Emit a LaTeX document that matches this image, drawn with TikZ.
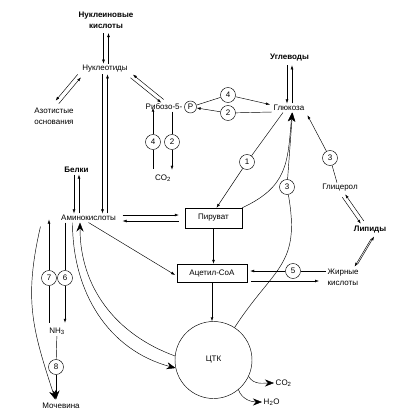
\documentclass[tikz,border=0pt]{standalone}
\usepackage{fontspec}
\setmainfont{Liberation Sans}
\usetikzlibrary{arrows.meta, positioning}

\begin{document}
\begin{tikzpicture}[x=1pt, y=-1pt, line width=0.45pt,
    font=\fontsize{8}{11}\selectfont,
    txt/.style={inner sep=1.5pt, align=center},
    bold/.style={txt, font=\fontsize{8}{11}\selectfont\bfseries},
    num/.style={draw, circle, minimum size=15pt, inner sep=0pt},
    box/.style={draw, minimum height=18pt, inner sep=2pt},
    arr/.style={-{Latex[length=4pt,width=2.8pt]}},
    bigarr/.style={-{Stealth[length=9pt,width=7pt]}}]
    \useasboundingbox (0,0) rectangle (415,416);

    % substances
    \node[bold] (nk) at (106,20) {Нуклеиновые\\кислоты};
    \node[txt] (nt) at (105,69) {Нуклеотиды};
    \node[txt] (azo) at (54,116) {Азотистые\\основания};
    \node[txt, anchor=east] (rib) at (184,107) {Рибозо-5-};
    \node[num, minimum size=12pt] (ribp) at (190.5,107) {P};
    \node[bold] (ug) at (289.5,58) {Углеводы};
    \node[txt] (gl) at (289,108) {Глюкоза};
    \node[txt] (co2a) at (163,178) {CO\textsubscript{2}};
    \node[bold] (bel) at (76.5,170) {Белки};
    \node[txt] (ak) at (88.5,218) {Аминокислоты};
    \node[box, minimum width=57pt, minimum height=20pt] (pyr) at (213.5,218) {Пируват};
    \node[box, minimum width=70pt] (acc) at (212,273) {Ацетил-CoA};
    \node[draw, circle, minimum size=77pt] (tca) at (213.5,360) {ЦТК};
    \node[txt, anchor=west] (co2b) at (274,383) {CO\textsubscript{2}};
    \node[txt, anchor=west] (h2o) at (262,402) {H\textsubscript{2}O};
    \node[txt] (glc) at (340,188) {Глицерол};
    \node[bold] (lip) at (370,230) {Липиды};
    \node[txt, align=left, anchor=west] (fa) at (326,277) {Жирные\\кислоты};
    \node[txt] (nh3) at (57,331) {NH\textsubscript{3}};
    \node[txt] (moch) at (61,406) {Мочевина};

    % reaction numbers
    \node[num] (c4a) at (228,95) {4};
    \node[num] (c2a) at (228,113) {2};
    \node[num] (c4b) at (153,142) {4};
    \node[num] (c2b) at (172,142) {2};
    \node[num] (c1) at (247,162) {1};
    \node[num] (c3a) at (287,187) {3};
    \node[num] (c3b) at (330,158) {3};
    \node[num] (c5) at (293,271) {5};
    \node[num] (c7) at (49,278) {7};
    \node[num] (c6) at (65,278) {6};
    \node[num] (c8) at (56,367) {8};

    % two-way pairs
    \draw[arr, shorten <=3pt, transform canvas={xshift=-2.5pt}] (nk.south) -- (nk.south |- nt.north);
    \draw[arr, shorten >=3pt, transform canvas={xshift=2.5pt}] (nk.south |- nt.north) -- (nk.south);
    \draw[arr, shorten <=2pt, shorten >=5pt, transform canvas={xshift=-1.6pt,yshift=1.5pt}] (nt.south west) -- (azo.north);
    \draw[arr, shorten >=2pt, shorten <=5pt, transform canvas={xshift=1.6pt,yshift=-1.5pt}] (azo.north) -- (nt.south west);
    \draw[arr, shorten <=3pt, shorten >=2pt, transform canvas={xshift=-1.2pt,yshift=-1.6pt}] (nt.south east) -- (rib.north);
    \draw[arr, shorten >=3pt, shorten <=2pt, transform canvas={xshift=1.2pt,yshift=1.6pt}] (rib.north) -- (nt.south east);
    \draw[arr, transform canvas={xshift=-2.5pt}] (nt.south) -- (nt.south |- ak.north);
    \draw[arr, transform canvas={xshift=2.5pt}] (nt.south |- ak.north) -- (nt.south);
    \draw[arr, transform canvas={xshift=-2.5pt}] (bel.south) -- (bel.south |- ak.north);
    \draw[arr, transform canvas={xshift=2.5pt}] (bel.south |- ak.north) -- (bel.south);
    \draw[arr, shorten <=2pt, transform canvas={xshift=-2.5pt}] (ug.south) -- (ug.south |- gl.north);
    \draw[arr, shorten >=2pt, transform canvas={xshift=2.5pt}] (ug.south |- gl.north) -- (ug.south);
    \draw[arr, shorten <=3pt, shorten >=3pt, transform canvas={xshift=-1.5pt,yshift=-1.4pt}] ([xshift=2pt]glc.south) -- ([xshift=-6pt]lip.north);
    \draw[arr, shorten <=3pt, shorten >=3pt, transform canvas={xshift=1.5pt,yshift=1.4pt}] ([xshift=-6pt]lip.north) -- ([xshift=2pt]glc.south);
    \draw[arr, shorten <=3pt, shorten >=2pt, transform canvas={xshift=-1.6pt,yshift=-1.4pt}] ([xshift=4pt]lip.south) -- ([xshift=12pt]fa.north);
    \draw[arr, shorten <=2pt, shorten >=3pt, transform canvas={xshift=1.6pt,yshift=1.4pt}] ([xshift=12pt]fa.north) -- ([xshift=4pt]lip.south);
    \draw[arr, shorten <=5pt, shorten >=6pt] ([yshift=3pt]ak.east) -- ([yshift=3pt]pyr.west);
    \draw[arr, shorten <=6pt, shorten >=5pt] ([yshift=-3pt]pyr.west) -- ([yshift=-3pt]pyr.west -| ak.east);

    % pentose path
    \draw (ribp) -- (c4a);
    \draw[arr, shorten >=2pt] (c4a) -- ([yshift=3pt]gl.west);
    \draw ([yshift=-4pt]gl.west) -- (c2a);
    \draw[arr] (c2a) -- (ribp);
    \draw[arr, shorten >=-4pt] (c4b) -- (c4b |- rib.south);
    \draw[shorten <=4pt] (c4b |- co2a.north) -- (c4b);
    \draw (c2b |- rib.south) -- (c2b);
    \draw[arr, shorten >=3pt] (c2b) -- (c2b |- co2a.north);

    % glucose
    \draw ([xshift=-6pt]gl.south) -- (c1);
    \draw[arr] (c1) -- ([xshift=3pt]pyr.north);
    \draw[bigarr] (pyr.north east) to[out=25, in=-95, looseness=1.2] ([xshift=3pt]gl.south);
    \draw (tca.57) to[out=57, in=-80, looseness=1.3] (c3a);
    \draw[bigarr] (c3a) -- ([xshift=3.5pt]gl.south);
    \draw ([xshift=-3pt]glc.north) -- (c3b);
    \draw[arr, shorten >=3pt] (c3b) -- (gl.south east);

    % acetyl-CoA
    \draw[arr] (pyr) -- (pyr |- acc.north);
    \draw[arr, shorten >=2pt] (ak.south) -- ([yshift=-3pt]acc.west);
    \draw (c5 -| fa.west) -- (c5);
    \draw[arr, shorten >=3pt] (c5) -- (c5 -| acc.east);
    \draw[arr, shorten <=4pt, shorten >=7pt] ([yshift=-8pt]acc.east) -- ([yshift=-8pt]acc.east -| fa.west);
    \draw[arr] (acc.south) -- (acc.south |- tca.north);
    \draw[bigarr] (tca.-25) to[out=-60, in=180] (co2b.west);
    \draw[bigarr] (tca.-50) to[out=-70, in=180] (h2o.west);

    % amino acids
    \draw[bigarr] ([xshift=-16pt]ak.south) to[out=-90, in=165] (tca.192);
    \draw[bigarr] (tca.174) to[out=160, in=-90] ([xshift=-8.5pt]ak.south);
    \draw (c6 |- ak.south) -- (c6);
    \draw[arr, shorten >=3pt] (c6) -- (c6 |- nh3.north);
    \draw[shorten <=3pt] (c7 |- nh3.north) -- (c7);
    \draw[arr, shorten >=-3pt] (c7) -- (c7 |- ak.south);
    \draw (nh3) -- (c8);
    \draw[bigarr, shorten >=2pt] (c8) -- (c8 |- moch.north);
    \draw[bigarr, shorten >=2pt] ([xshift=-19pt,yshift=-4pt]ak.south west) to[out=-103, in=108, looseness=1.1] (c8 |- moch.north);
\end{tikzpicture}
\end{document}
